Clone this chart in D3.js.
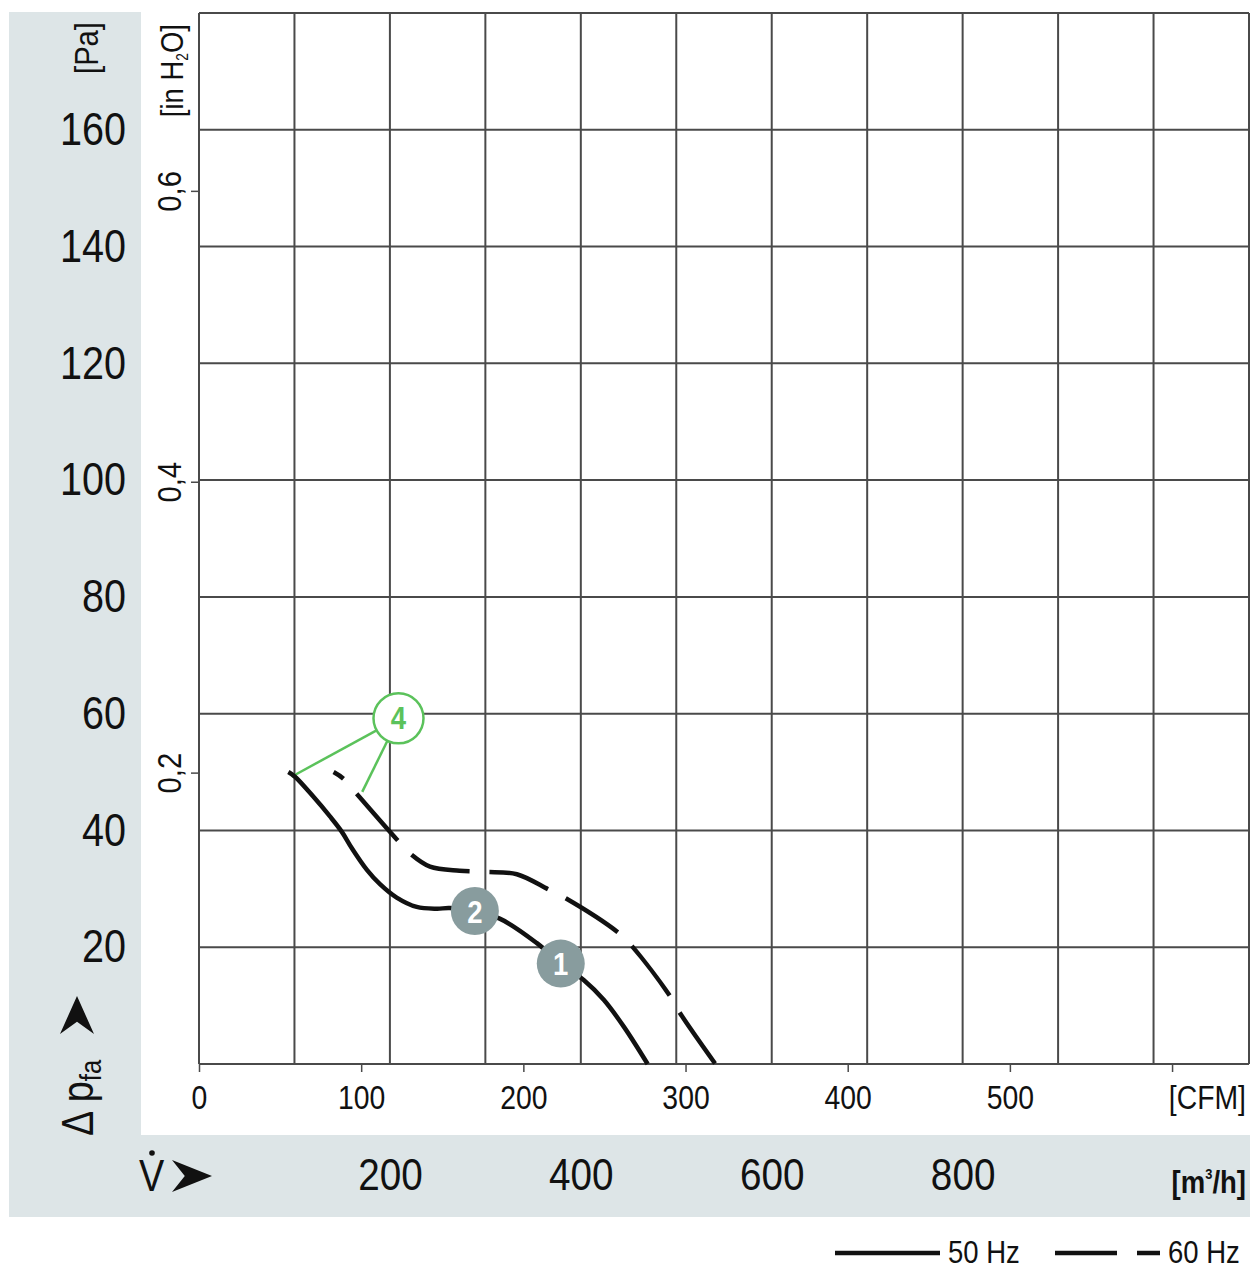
<!DOCTYPE html>
<html>
<head>
<meta charset="utf-8">
<script src="https://cdn.jsdelivr.net/npm/d3@7/dist/d3.min.js"></script>
<style>
  html, body { margin: 0; padding: 0; background: #fff; }
  svg { display: block; }
  text { font-family: "Liberation Sans", Arial, sans-serif; fill: #111; }
</style>
</head>
<body>
<svg id="chart" width="1250" height="1270"></svg>
<script>
// ---- data (flow in m³/h, pressure in Pa) ----
const flow50 = [93.6, 100.6, 119.7, 137.2, 149.5, 160, 175.7, 189.6, 207.1, 228.1, 249, 263, 289, 315, 354, 379, 403, 424, 445, 470];
const pres50 = [50.0, 49.2, 45.8, 42.4, 39.8, 37.0, 33.3, 30.8, 28.5, 26.9, 26.6, 26.7, 26.0, 24.9, 20.7, 17.2, 14.4, 11.0, 6.4, 0];
const flow60 = [141, 151, 165, 207, 223, 242, 273, 300, 333, 366, 384, 440, 454, 494, 504, 541];
const pres60 = [50.0, 48.9, 46.3, 38.5, 35.8, 33.8, 33.1, 32.9, 32.5, 29.9, 28.4, 22.4, 20.1, 11.5, 8.7, 0];

const markerLabels = ["2", "1"];
const markerFlow = [289, 379];
const markerPres = [26.2, 17.2];

const noteLabel = "4";
const noteFlow = 209;
const notePres = 59.2;
const noteTargetFlow = [97, 171];
const noteTargetPres = [49.2, 46.6];

const paTicks = [20, 40, 60, 80, 100, 120, 140, 160];
const m3hTicks = [200, 400, 600, 800];
const cfmTicks = [0, 100, 200, 300, 400, 500];
const inH2OTicks = [0.2, 0.4, 0.6];
const legendLabels = ["50 Hz", "60 Hz"];

const CFM_TO_M3H = 1.699;
const INH2O_TO_PA = 249.09;

// ---- layout ----
const SX = 0.86; // horizontal condensing of text
const svg = d3.select("#chart");
const grey = "#dde5e7";
const gridColor = "#4a4a4a";
const green = "#5bc25b";
const markerFill = "#889c9e";

const x = d3.scaleLinear().domain([0, 1100]).range([199, 1249]);
const y = d3.scaleLinear().domain([0, 180]).range([1064, 13]);
const xCfm = d3.scaleLinear().domain([0, 1100 / CFM_TO_M3H]).range([199, 1249]);
const yIn = d3.scaleLinear().domain([0, 180 / INH2O_TO_PA]).range([1064, 13]);

function txt(parent, tx, ty, size, anchor, rot) {
  return parent.append("text")
    .attr("transform", `translate(${tx},${ty})` + (rot ? ` rotate(${rot})` : "") + ` scale(${SX},1)`)
    .attr("font-size", size).attr("text-anchor", anchor || "start");
}

// backgrounds
svg.append("rect").attr("x", 9).attr("y", 12).attr("width", 1241).attr("height", 1205).attr("fill", grey);
svg.append("rect").attr("x", 141).attr("y", 12).attr("width", 1109).attr("height", 1123).attr("fill", "#fff");

// grid
const gx = svg.append("g");
gx.selectAll("line.v").data(d3.range(0, 1101, 100)).join("line")
  .attr("x1", d => x(d)).attr("x2", d => x(d))
  .attr("y1", y(0)).attr("y2", y(180))
  .attr("stroke", gridColor).attr("stroke-width", 2);
gx.selectAll("line.h").data(d3.range(0, 181, 20)).join("line")
  .attr("x1", x(0)).attr("x2", x(1100))
  .attr("y1", d => y(d)).attr("y2", d => y(d))
  .attr("stroke", gridColor).attr("stroke-width", 2);

// Pa labels (left grey panel)
const paAxis = d3.axisLeft(y).tickValues(paTicks).tickSize(0).tickPadding(0).tickFormat(d3.format("d"));
const gPa = svg.append("g").attr("transform", "translate(126,0)").call(paAxis);
gPa.select(".domain").remove();
gPa.selectAll("text").attr("font-size", 46).attr("fill", "#111")
  .attr("transform", `scale(${SX},1)`)
  .style("font-family", '"Liberation Sans", Arial, sans-serif');

// [Pa] unit
txt(svg, 98, 22, 34, "end", -90).text("[Pa]");

// inH2O axis ticks
const gIn = svg.append("g");
gIn.selectAll("line").data(inH2OTicks).join("line")
  .attr("x1", 191).attr("x2", 199)
  .attr("y1", d => yIn(d)).attr("y2", d => yIn(d))
  .attr("stroke", gridColor).attr("stroke-width", 1.5);
inH2OTicks.forEach(d => {
  txt(gIn, 181, yIn(d), 34, "middle", -90).text(d3.format(".1f")(d).replace(".", ","));
});
const inUnit = txt(svg, 183, 24, 32, "end", -90);
inUnit.append("tspan").text("[in H");
inUnit.append("tspan").attr("font-size", 16).attr("dy", 5).text("2");
inUnit.append("tspan").attr("dy", -5).text("O]");

// CFM axis
const cfmAxis = d3.axisBottom(xCfm).tickValues(cfmTicks.concat([600])).tickSize(8).tickPadding(14)
  .tickFormat(d => d === 600 ? "" : d);
const gCfm = svg.append("g").attr("transform", `translate(0,${y(0)})`).call(cfmAxis);
gCfm.select(".domain").remove();
gCfm.selectAll(".tick line").attr("stroke", gridColor).attr("stroke-width", 1.5);
gCfm.selectAll(".tick text").attr("font-size", 33).attr("fill", "#111")
  .attr("transform", `scale(${SX},1)`)
  .style("font-family", '"Liberation Sans", Arial, sans-serif');
txt(svg, 1246, 1109, 33, "end").text("[CFM]");

// m3/h axis labels (bottom grey band)
const m3Axis = d3.axisBottom(x).tickValues(m3hTicks).tickSize(0).tickPadding(0).tickFormat(d3.format("d"));
const gM3 = svg.append("g").attr("transform", "translate(0,1158)").call(m3Axis);
gM3.select(".domain").remove();
gM3.selectAll(".tick text").attr("font-size", 45).attr("fill", "#111")
  .attr("transform", `scale(${SX},1)`)
  .style("font-family", '"Liberation Sans", Arial, sans-serif');
const m3Unit = txt(svg, 1246, 1193, 32, "end");
m3Unit.attr("font-weight", "bold");
m3Unit.append("tspan").text("[m");
m3Unit.append("tspan").attr("font-size", 15).attr("dy", -14).text("3");
m3Unit.append("tspan").attr("dy", 14).text("/h]");

// arrowhead helper (notched, pointing right, tip at 0,0)
function arrowPath(L, H) {
  return `M${-L},${-H / 2} L0,0 L${-L},${H / 2} L${-L * 0.68},0 Z`;
}

// V-dot arrow
txt(svg, 139, 1191, 44, "start").text("V");
svg.append("circle").attr("cx", 152).attr("cy", 1153).attr("r", 2.8).attr("fill", "#111");
svg.append("path").attr("d", arrowPath(40, 32)).attr("transform", "translate(212,1176)").attr("fill", "#111");

// Δ p_fa arrow (vertical)
const dp = txt(svg, 93, 1136, 44, "start", -90);
dp.append("tspan").text("\u0394 p");
dp.append("tspan").attr("font-size", 30).attr("dy", 8).text("fa");
svg.append("path").attr("d", arrowPath(38, 34)).attr("transform", "translate(77,996) rotate(-90)").attr("fill", "#111");

// curves
const line = d3.line().x(d => x(d[0])).y(d => y(d[1])).curve(d3.curveCatmullRom.alpha(0.5));
const pts50 = flow50.map((v, i) => [v, pres50[i]]);
const pts60 = flow60.map((v, i) => [v, pres60[i]]);

// green leader lines for note 4
const nx = x(noteFlow), ny = y(notePres), nr = 25;
noteTargetFlow.forEach((f, i) => {
  const tx = x(f), ty = y(noteTargetPres[i]);
  const ang = Math.atan2(ty - ny, tx - nx);
  svg.append("line")
    .attr("x1", nx + nr * Math.cos(ang)).attr("y1", ny + nr * Math.sin(ang))
    .attr("x2", tx).attr("y2", ty)
    .attr("stroke", green).attr("stroke-width", 2.5);
});

svg.append("path").attr("d", line(pts50)).attr("fill", "none")
  .attr("stroke", "#111").attr("stroke-width", 4.5).attr("stroke-linecap", "butt");
svg.append("path").attr("d", line(pts60)).attr("fill", "none")
  .attr("stroke", "#111").attr("stroke-width", 4.5)
  .attr("stroke-dasharray", "62,20").attr("stroke-dashoffset", 50);

// note circle 4
svg.append("circle").attr("cx", nx).attr("cy", ny).attr("r", nr)
  .attr("fill", "#fff").attr("stroke", green).attr("stroke-width", 2.5);
txt(svg, nx, ny + 11, 32, "middle").attr("font-weight", "bold").style("fill", green).text(noteLabel);

// grey markers
const gMk = svg.append("g");
markerLabels.forEach((lab, i) => {
  const cx = x(markerFlow[i]), cy = y(markerPres[i]);
  gMk.append("circle").attr("cx", cx).attr("cy", cy).attr("r", 24).attr("fill", markerFill);
  txt(gMk, cx, cy + 11.5, 32, "middle").attr("font-weight", "bold").style("fill", "#fff").text(lab);
});

// legend
const gL = svg.append("g");
gL.append("line").attr("x1", 835).attr("x2", 940).attr("y1", 1253).attr("y2", 1253)
  .attr("stroke", "#111").attr("stroke-width", 4.5);
txt(gL, 948, 1263, 32, "start").text(legendLabels[0]);
gL.append("line").attr("x1", 1055).attr("x2", 1160).attr("y1", 1253).attr("y2", 1253)
  .attr("stroke", "#111").attr("stroke-width", 4.5).attr("stroke-dasharray", "62,20");
txt(gL, 1168, 1263, 32, "start").text(legendLabels[1]);
</script>
</body>
</html>
